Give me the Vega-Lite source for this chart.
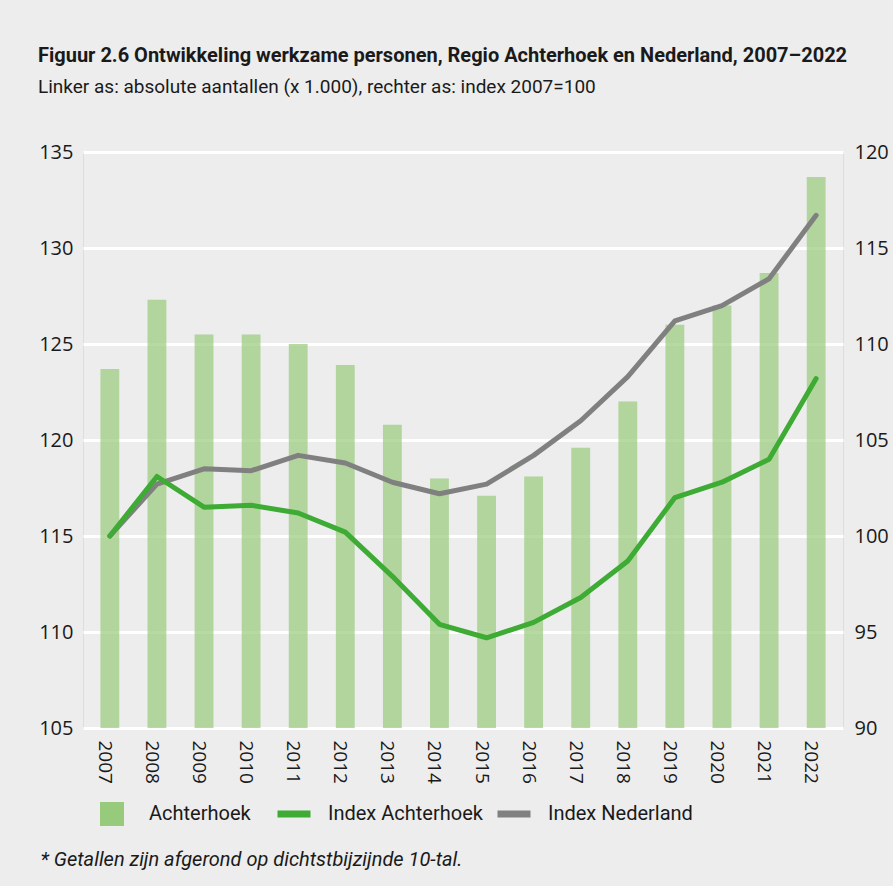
{
  "$schema": "https://vega.github.io/schema/vega-lite/v6.json",
  "width": 760,
  "height": 576,
  "autosize": {"type": "none"},
  "padding": {"left": 83, "top": 152, "right": 50, "bottom": 158},
  "background": "#ededed",
  "title": {
    "text": "Figuur 2.6 Ontwikkeling werkzame personen, Regio Achterhoek en Nederland, 2007–2022",
    "subtitle": "Linker as: absolute aantallen (x 1.000), rechter as: index 2007=100",
    "anchor": "start",
    "frame": "group",
    "dx": -45,
    "offset": 45,
    "font": "Roboto",
    "fontSize": 20,
    "fontWeight": "bold",
    "color": "#1a1a1a",
    "subtitleFont": "Roboto",
    "subtitleFontSize": 19,
    "subtitleColor": "#1a1a1a",
    "subtitlePadding": 12
  },
  "datasets": {
    "bars": [
      {"year": "2007", "value": 123.7},
      {"year": "2008", "value": 127.3},
      {"year": "2009", "value": 125.5},
      {"year": "2010", "value": 125.5},
      {"year": "2011", "value": 125.0},
      {"year": "2012", "value": 123.9},
      {"year": "2013", "value": 120.8},
      {"year": "2014", "value": 118.0},
      {"year": "2015", "value": 117.1},
      {"year": "2016", "value": 118.1},
      {"year": "2017", "value": 119.6},
      {"year": "2018", "value": 122.0},
      {"year": "2019", "value": 126.0},
      {"year": "2020", "value": 127.0},
      {"year": "2021", "value": 128.7},
      {"year": "2022", "value": 133.7}
    ],
    "lines": [
      {"year": "2007", "series": "Index Achterhoek", "value": 100.0},
      {"year": "2008", "series": "Index Achterhoek", "value": 103.1},
      {"year": "2009", "series": "Index Achterhoek", "value": 101.5},
      {"year": "2010", "series": "Index Achterhoek", "value": 101.6},
      {"year": "2011", "series": "Index Achterhoek", "value": 101.2},
      {"year": "2012", "series": "Index Achterhoek", "value": 100.2},
      {"year": "2013", "series": "Index Achterhoek", "value": 97.9},
      {"year": "2014", "series": "Index Achterhoek", "value": 95.4},
      {"year": "2015", "series": "Index Achterhoek", "value": 94.7},
      {"year": "2016", "series": "Index Achterhoek", "value": 95.5},
      {"year": "2017", "series": "Index Achterhoek", "value": 96.8},
      {"year": "2018", "series": "Index Achterhoek", "value": 98.7},
      {"year": "2019", "series": "Index Achterhoek", "value": 102.0},
      {"year": "2020", "series": "Index Achterhoek", "value": 102.8},
      {"year": "2021", "series": "Index Achterhoek", "value": 104.0},
      {"year": "2022", "series": "Index Achterhoek", "value": 108.2},
      {"year": "2007", "series": "Index Nederland", "value": 100.0},
      {"year": "2008", "series": "Index Nederland", "value": 102.7},
      {"year": "2009", "series": "Index Nederland", "value": 103.5},
      {"year": "2010", "series": "Index Nederland", "value": 103.4},
      {"year": "2011", "series": "Index Nederland", "value": 104.2},
      {"year": "2012", "series": "Index Nederland", "value": 103.8},
      {"year": "2013", "series": "Index Nederland", "value": 102.8},
      {"year": "2014", "series": "Index Nederland", "value": 102.2},
      {"year": "2015", "series": "Index Nederland", "value": 102.7},
      {"year": "2016", "series": "Index Nederland", "value": 104.2},
      {"year": "2017", "series": "Index Nederland", "value": 106.0},
      {"year": "2018", "series": "Index Nederland", "value": 108.3},
      {"year": "2019", "series": "Index Nederland", "value": 111.2},
      {"year": "2020", "series": "Index Nederland", "value": 112.0},
      {"year": "2021", "series": "Index Nederland", "value": 113.4},
      {"year": "2022", "series": "Index Nederland", "value": 116.7}
    ]
  },
  "encoding": {
    "x": {
      "field": "year",
      "type": "ordinal",
      "scale": {"paddingInner": 0.6, "paddingOuter": 0.37},
      "axis": {
        "orient": "bottom",
        "labelAngle": 90,
        "labelAlign": "left",
        "labelBaseline": "middle",
        "labelFont": "Open Sans",
        "labelFontSize": 19,
        "labelColor": "#1a1a1a",
        "labelPadding": 12,
        "labelOffset": -5,
        "ticks": false,
        "domain": false,
        "grid": false,
        "title": "* Getallen zijn afgerond op dichtstbijzijnde 10-tal.",
        "titleFont": "Roboto",
        "titleFontSize": 20,
        "titleFontStyle": "italic",
        "titleFontWeight": "normal",
        "titleColor": "#1a1a1a",
        "titleAlign": "left",
        "titleAnchor": "start",
        "titleBaseline": "alphabetic",
        "titleX": -43,
        "titleY": 137
      }
    }
  },
  "layer": [
    {
      "data": {"name": "bars"},
      "mark": {"type": "bar", "opacity": 0.7},
      "encoding": {
        "y": {
          "field": "value",
          "type": "quantitative",
          "scale": {"domain": [105, 135], "zero": false, "nice": false},
          "axis": {
            "orient": "left",
            "values": [105, 110, 115, 120, 125, 130, 135],
            "grid": true,
            "gridColor": "#ffffff",
            "gridWidth": 3,
            "gridOpacity": 1,
            "ticks": false,
            "domain": false,
            "labelFont": "Open Sans",
            "labelFontSize": 20,
            "labelColor": "#1a1a1a",
            "labelPadding": 10,
            "title": null
          }
        },
        "y2": {"datum": 105},
        "fill": {
          "datum": "Achterhoek",
          "type": "nominal",
          "scale": {"range": ["#97ca7a"]},
          "legend": {
            "orient": "none",
            "legendX": 17,
            "legendY": 650,
            "direction": "horizontal",
            "title": null,
            "symbolType": "square",
            "symbolSize": 576,
            "symbolOpacity": 1,
            "symbolStrokeWidth": 0,
            "labelFont": "Roboto",
            "labelFontSize": 20,
            "labelColor": "#1a1a1a",
            "labelOffset": 25,
            "padding": 0
          }
        }
      }
    },
    {
      "data": {"name": "lines"},
      "encoding": {
        "y": {
          "field": "value",
          "type": "quantitative",
          "scale": {"domain": [90, 120], "zero": false, "nice": false},
          "axis": {
            "orient": "right",
            "values": [90, 95, 100, 105, 110, 115, 120],
            "grid": false,
            "ticks": false,
            "domain": false,
            "labelFont": "Open Sans",
            "labelFontSize": 20,
            "labelColor": "#1a1a1a",
            "labelPadding": 11,
            "title": null
          }
        },
        "stroke": {
          "field": "series",
          "type": "nominal",
          "scale": {"domain": ["Index Achterhoek", "Index Nederland"], "range": ["#3dab34", "#808080"]},
          "legend": {
            "orient": "none",
            "legendX": 191,
            "legendY": 642,
            "direction": "horizontal",
            "title": null,
            "symbolType": "stroke",
            "symbolSize": 1089,
            "symbolStrokeWidth": 7,
            "labelFont": "Roboto",
            "labelFontSize": 20,
            "labelColor": "#1a1a1a",
            "labelOffset": 14,
            "columnPadding": 0,
            "padding": 0
          }
        }
      },
      "layer": [
        {
          "transform": [{"filter": "datum.series === 'Index Nederland'"}],
          "mark": {"type": "line", "strokeWidth": 5, "strokeCap": "round", "strokeJoin": "round"}
        },
        {
          "transform": [{"filter": "datum.series === 'Index Achterhoek'"}],
          "mark": {"type": "line", "strokeWidth": 5, "strokeCap": "round", "strokeJoin": "round"}
        }
      ]
    }
  ],
  "resolve": {"scale": {"y": "independent"}}
}
